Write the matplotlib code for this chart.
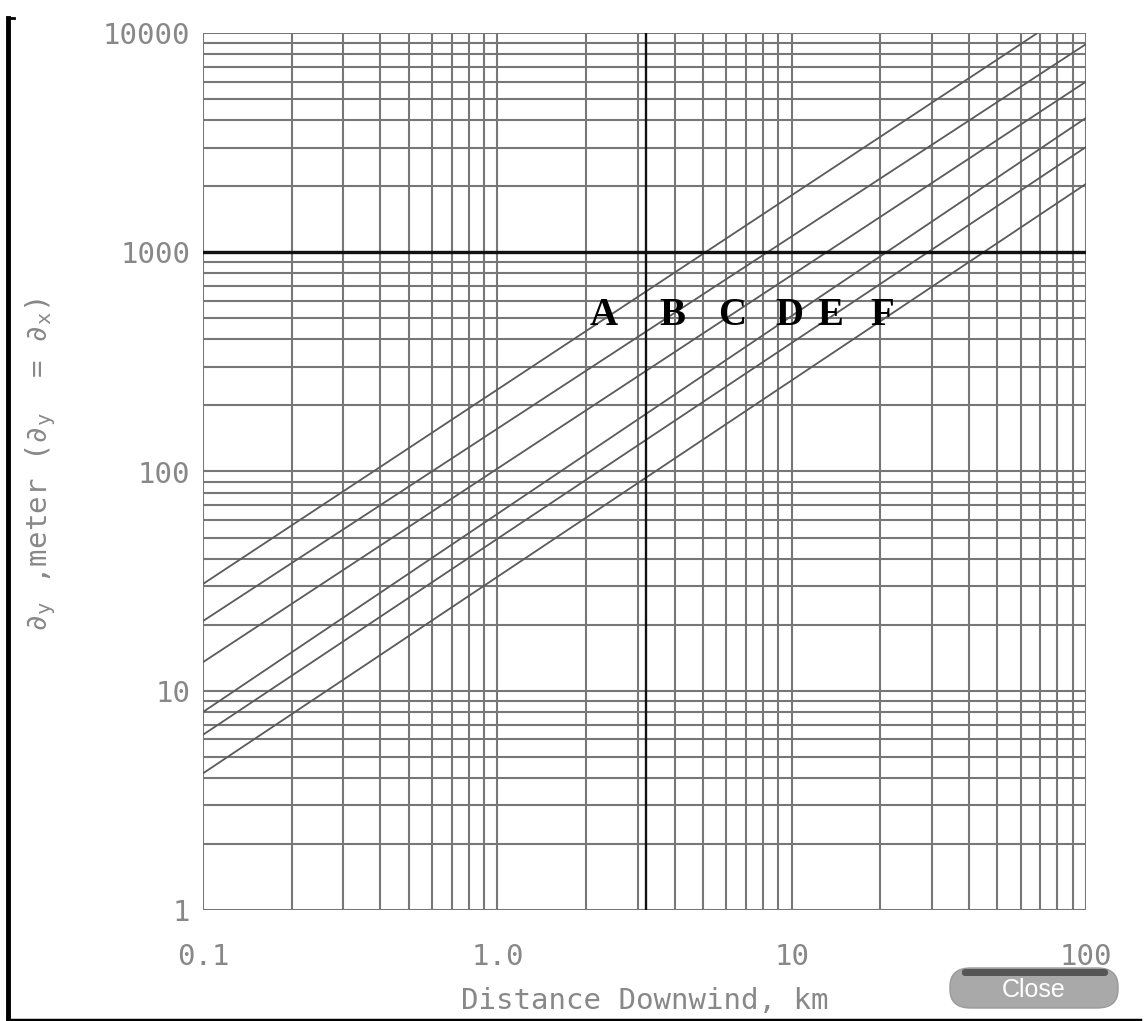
import numpy as np
import matplotlib
matplotlib.use("Agg")
import matplotlib.pyplot as plt
from matplotlib.patches import FancyBboxPatch
from matplotlib.lines import Line2D

# stability classes, sigma_y (m) read at x = 0.1 km and x = 100 km
classes = ['A', 'B', 'C', 'D', 'E', 'F']
x_ends = [0.1, 100]
sigma_start = [30.7, 20.8, 13.5, 8.0, 6.3, 4.2]
sigma_end = [14000, 8900, 6000, 4100, 3020, 2050]

# class label positions (km, m)
label_x = [2.3, 3.93, 6.3, 9.8, 13.5, 20.3]
label_y = [517, 517, 517, 517, 517, 517]

# cursor crosshair
cross_x = 3.2
cross_y = 1000

xticks = [0.1, 1.0, 10, 100]
xticklabels = ['0.1', '1.0', '10', '100']
yticks = [1, 10, 100, 1000, 10000]
yticklabels = ['1', '10', '100', '1000', '10000']

plt.rcParams['mathtext.fontset'] = 'custom'
plt.rcParams['mathtext.rm'] = 'DejaVu Sans Mono'

fig = plt.figure(figsize=(11.46, 10.21), dpi=100)
ax = fig.add_axes([203/1146, 1 - 910/1021, (1086-203)/1146, (910-33)/1021])
ax.set_xscale('log')
ax.set_yscale('log')
ax.set_xlim(0.1, 100)
ax.set_ylim(1, 10000)

gcol = '#777777'
# grid lines at every 1..9 of each decade
for d in [0.1, 1, 10]:
    for m in range(1, 10):
        ax.axvline(d * m, color=gcol, lw=1.5, zorder=1)
for d in [1, 10, 100, 1000]:
    for m in range(1, 10):
        ax.axhline(d * m, color=gcol, lw=1.5, zorder=1)
ax.axvline(100, color=gcol, lw=1.5, zorder=1)
ax.axhline(10000, color=gcol, lw=1.5, zorder=1)

for s0, s1 in zip(sigma_start, sigma_end):
    ax.plot(x_ends, [s0, s1], color='#5a5a5a', lw=1.3, zorder=2)

ax.axhline(cross_y, color='#111111', lw=2.4, zorder=3)
ax.axvline(cross_x, color='#111111', lw=1.7, zorder=3)

for c, lx, ly in zip(classes, label_x, label_y):
    ax.text(lx, ly, c, fontsize=28, fontweight='bold', family='Liberation Serif',
            ha='center', va='center', color='black', zorder=4)

for s in ax.spines.values():
    s.set_visible(False)
ax.minorticks_off()
ax.set_xticks(xticks)
ax.set_xticklabels(xticklabels, family='DejaVu Sans Mono', fontsize=21, color='#888888')
ax.set_yticks(yticks)
ax.set_yticklabels(yticklabels, family='DejaVu Sans Mono', fontsize=21, color='#888888')
ax.tick_params(which='both', length=0)
ax.tick_params(axis='x', pad=24)
ax.tick_params(axis='y', pad=9)

ax.set_xlabel('Distance Downwind, km', family='DejaVu Sans Mono', fontsize=21,
              color='#888888')
ax.xaxis.set_label_coords(0.5, -0.088)
ax.set_ylabel(r'∂$_\mathregular{y}$ ,meter (∂$_\mathregular{y}$  = ∂$_\mathregular{x}$)',
              family='DejaVu Sans Mono', fontsize=21, color='#888888')
ax.yaxis.set_label_coords(-0.164, 0.507)

# window frame
fig.add_artist(Line2D([8/1146, 8/1146], [0, 1 - 18/1021], color='black', lw=3.5))
fig.add_artist(Line2D([8/1146, 14/1146], [1 - 18/1021, 1 - 18/1021], color='black', lw=2))
fig.add_artist(Line2D([8/1146, 1140/1146], [1/1021, 1/1021], color='black', lw=2.5))

# close button
btn = FancyBboxPatch((950/1146, 1 - 1008/1021), 168/1146, 40/1021,
                     boxstyle='round,pad=0,rounding_size=0.018', transform=fig.transFigure,
                     facecolor='#a9a9a9', edgecolor='#9a9a9a', lw=1)
fig.add_artist(btn)
bar = FancyBboxPatch((962/1146, 1 - 976/1021), 146/1146, 7/1021,
                     boxstyle='round,pad=0,rounding_size=0.003', transform=fig.transFigure,
                     facecolor='#555555', edgecolor='none')
fig.add_artist(bar)
fig.text(1034/1146, 1 - 990/1021, 'Close', fontsize=18, color='white',
         ha='center', va='center', family='Liberation Sans')

plt.savefig('out.png', dpi=100)
